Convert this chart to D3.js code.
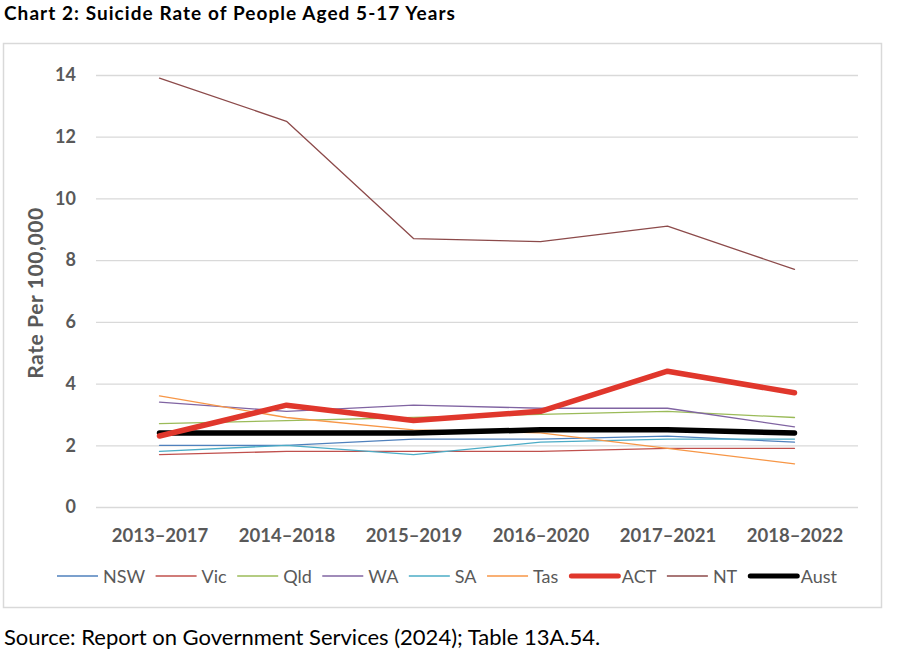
<!DOCTYPE html>
<html><head><meta charset="utf-8">
<script src="https://cdn.jsdelivr.net/npm/d3@7"></script>
<style>body{margin:0;background:#fff;}svg{display:block;font-family:Lato,"Open Sans",sans-serif;}</style>
</head><body>
<svg id="chart" width="900" height="657"></svg>
<script>
const categories = ["2013–2017","2014–2018","2015–2019","2016–2020","2017–2021","2018–2022"];
const seriesNames = ["NSW","Vic","Qld","WA","SA","Tas","ACT","NT","Aust"];
const NSW  = [2.0, 2.0, 2.2, 2.2, 2.3, 2.1];
const Vic  = [1.7, 1.8, 1.8, 1.8, 1.9, 1.9];
const Qld  = [2.7, 2.8, 2.9, 3.0, 3.1, 2.9];
const WA   = [3.4, 3.1, 3.3, 3.2, 3.2, 2.6];
const SA   = [1.8, 2.0, 1.7, 2.1, 2.2, 2.2];
const Tas  = [3.6, 2.9, 2.5, 2.4, 1.9, 1.4];
const ACT  = [2.3, 3.3, 2.8, 3.1, 4.4, 3.7];
const NT   = [13.9, 12.5, 8.7, 8.6, 9.1, 7.7];
const Aust = [2.4, 2.4, 2.4, 2.5, 2.5, 2.4];
const yTicks = [0, 2, 4, 6, 8, 10, 12, 14];

const values = {NSW, Vic, Qld, WA, SA, Tas, ACT, NT, Aust};
const colors = {NSW:"#4F81BD", Vic:"#C0504D", Qld:"#9BBB59", WA:"#8064A2", SA:"#4BACC6", Tas:"#F79646", ACT:"#E0372C", NT:"#8C4A4A", Aust:"#000000"};
const widths = {NSW:1.3, Vic:1.3, Qld:1.3, WA:1.3, SA:1.3, Tas:1.3, ACT:5.5, NT:1.3, Aust:5.5};

const svg = d3.select("#chart");
svg.append("text").attr("x", 4).attr("y", 20).attr("font-size", 19).attr("font-weight", 700)
  .attr("letter-spacing", 1.05).attr("fill", "#000").text("Chart 2: Suicide Rate of People Aged 5-17 Years");
svg.append("rect").attr("x", 3.5).attr("y", 43.5).attr("width", 878).attr("height", 564)
  .attr("fill", "#fff").attr("stroke", "#d9d9d9").attr("stroke-width", 1.5);

const L = 96, R = 858, T = 75, B = 507;
const x = d3.scalePoint().domain(categories).range([L, R]).padding(0.5);
const y = d3.scaleLinear().domain([0, 14]).range([B, T]);

const gy = svg.append("g").attr("transform", `translate(${L},0)`)
  .call(d3.axisLeft(y).tickValues(yTicks).tickSize(-(R - L)).tickPadding(20));
gy.select(".domain").remove();
gy.selectAll(".tick line").attr("stroke", "#d9d9d9").attr("stroke-width", 1.3);
gy.selectAll(".tick text").attr("font-size", 18).attr("font-weight", 700).attr("fill", "#595959")
  .attr("font-family", "Lato,'Open Sans',sans-serif");

const gx = svg.append("g").attr("transform", `translate(0,${B})`)
  .call(d3.axisBottom(x).tickSize(0).tickPadding(22));
gx.select(".domain").remove();
gx.selectAll(".tick text").attr("font-size", 18.5).attr("font-weight", 700).attr("fill", "#595959")
  .attr("font-family", "Lato,'Open Sans',sans-serif");

svg.append("text").attr("transform", "translate(43,293) rotate(-90)").attr("text-anchor", "middle")
  .attr("font-size", 21).attr("font-weight", 700).attr("letter-spacing", 0.6).attr("fill", "#595959")
  .text("Rate Per 100,000");

const line = d3.line().x((d, i) => x(categories[i])).y(d => y(d));
const order = ["NSW","Vic","Qld","WA","SA","Tas","NT","Aust","ACT"];
order.forEach(n => {
  svg.append("path").datum(values[n]).attr("d", line).attr("fill", "none")
    .attr("stroke", colors[n]).attr("stroke-width", widths[n])
    .attr("stroke-linejoin", "round").attr("stroke-linecap", "round");
});

// legend: laid out sequentially, then spread to span the reference width
const lg = svg.append("g");
const legStart = 57, legEnd = 837, legY = 576;
const items = seriesNames.map(n => {
  const thick = widths[n] > 3;
  const g = lg.append("g");
  const len = thick ? 52 : 41;
  g.append("line").attr("x1", thick ? 2.5 : 0).attr("x2", thick ? len - 2.5 : len)
    .attr("y1", legY).attr("y2", legY)
    .attr("stroke", colors[n]).attr("stroke-width", thick ? 5 : 1.3).attr("stroke-linecap", thick ? "round" : "butt");
  const t = g.append("text").attr("x", len + (thick ? 1 : 5)).attr("y", legY + 6.5)
    .attr("font-size", 18).attr("fill", "#595959").text(n);
  const w = len + (thick ? 1 : 5) + t.node().getComputedTextLength();
  return {g, w, thick};
});
const totalW = d3.sum(items, d => d.w);
const gap = (legEnd - legStart - totalW) / (items.length - 1);
let cx = legStart;
items.forEach((it, i) => {
  it.g.attr("transform", `translate(${cx},0)`);
  cx += it.w + gap;
});

svg.append("text").attr("x", 4).attr("y", 645).attr("font-size", 22).attr("fill", "#000")
  .text("Source: Report on Government Services (2024); Table 13A.54.");
</script>
</body></html>
